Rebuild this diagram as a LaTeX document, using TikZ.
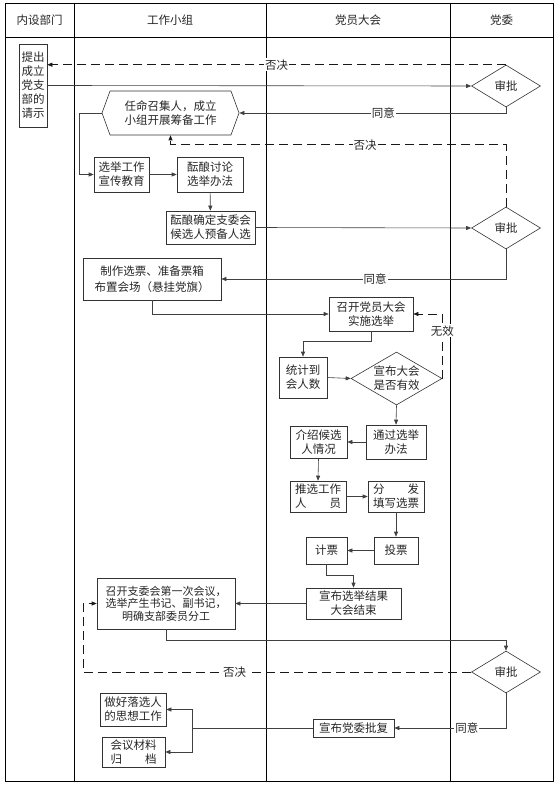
\documentclass[tikz,border=0pt]{standalone}
\usepackage{fontspec}
\setmainfont{Noto Sans CJK SC}
\usetikzlibrary{shapes.geometric, shapes.symbols, arrows.meta, positioning, calc}

\newcommand{\boxfont}{\fontsize{11.5}{14}\selectfont}
\newcommand{\smallbox}{\fontsize{11}{12.5}\selectfont}

\tikzset{
  lane/.style={draw=black, line width=0.8pt},
  box/.style={draw=black!80, line width=0.6pt, align=center, inner sep=1pt, text=black!85, font=\boxfont},
  hexa/.style={box, signal, signal to=east and west, signal pointer angle=140},
  approve/.style={box, diamond, aspect=1.6, inner sep=0pt, minimum width=69pt, minimum height=42pt},
  flow/.style={draw=black!75, line width=0.6pt, -{Triangle[length=5pt,width=4pt]}},
  back/.style={flow, draw=black!90, dash pattern=on 9pt off 5pt},
  lbl/.style={fill=white, inner sep=1pt, text=black!85, font=\boxfont}
}

\begin{document}
\begin{tikzpicture}[x=1pt, y=-1pt]
\useasboundingbox (0,0) rectangle (555,786);

% lanes
\draw[lane] (5,3) rectangle (553,781);
\draw[lane] (5,37) -- (553,37);
\foreach \lx in {74,266,450}
  \draw[lane] (\lx,3) -- (\lx,781);
\node[lbl] (h1) at (39.5,20) {内设部门};
\node[lbl] (h2) at (170,20) {工作小组};
\node[lbl] (h3) at (358,20) {党员大会};
\node[lbl] (h4) at (501.5,20) {党委};

% application and first approval
\node[box, minimum width=28pt, minimum height=83pt] (req) at (33,85.5) {提出\\成立\\党支\\部的\\请示};
\node[approve] (sp1) at (506,86) {审批};
\node[hexa, minimum width=137pt, minimum height=44pt] (hex) at (170.5,113) {任命召集人，成立\\小组开展筹备工作};

\draw[back] (sp1.north) -- node[lbl] {否决} (sp1.north -| req.east);
\draw[flow] (req.east) -- (sp1.west);
\draw[flow] (sp1.south) |- node[lbl, pos=0.73] {同意} (hex.east);

% preparation
\node[box, minimum width=55pt, minimum height=35pt] (pub) at (121.5,174.5) {选举工作\\宣传教育};
\node[box, minimum width=66pt, minimum height=35pt] (rule) at (210,174.5) {酝酿讨论\\选举办法};
\node[box, minimum width=89pt, minimum height=33pt] (cand) at (210.5,227.5) {酝酿确定支委会\\候选人预备人选};
\node[approve] (sp2) at (506,228) {审批};
\node[box, minimum width=138pt, minimum height=42pt, font=\fontsize{11.5}{16}\selectfont] (hall) at (152,279) {制作选票、准备票箱\\布置会场（悬挂党旗）};

\draw[flow] (hex.west) -- ++(-22,0) |- (pub.west);
\draw[flow] (pub) -- (rule);
\draw[flow] (rule) -- (cand);
\draw[flow] (cand.east) -- (sp2.west);
\draw[back] (sp2.north) -- ++(0,-62) -| node[lbl, pos=0.21] {否决} (hex.south);
\draw[flow] (sp2.south) |- node[lbl, pos=0.73] {同意} (hall.east);

% general meeting
\node[box, minimum width=84pt, minimum height=34pt] (meet) at (371,314) {召开党员大会\\实施选举};
\node[box, minimum width=48pt, minimum height=41pt] (count) at (303,377.5) {统计到\\会人数};
\node[box, diamond, aspect=1.7, inner sep=0pt, minimum width=91pt, minimum height=53pt] (valid) at (396.5,378.5) {宣布大会\\是否有效};
\node[box, minimum width=60pt, minimum height=34pt] (pass) at (396,442) {通过选举\\办法};
\node[box, minimum width=57pt, minimum height=32pt] (intro) at (318.5,442) {介绍候选\\人情况};
\node[box, minimum width=56pt, minimum height=31pt] (staff) at (318,496.5) {推选工作\\人　　员};
\node[box, minimum width=56pt, minimum height=31pt] (fill) at (396,496.5) {分　　发\\填写选票};
\node[box, minimum width=44pt, minimum height=27pt] (vote) at (396,550.5) {投票};
\node[box, minimum width=41pt, minimum height=27pt] (tally) at (326.5,550.5) {计票};
\node[box, minimum width=95pt, minimum height=31pt] (result) at (353.5,603.5) {宣布选举结果\\大会结束};

\draw[flow] (hall.south) |- (meet.west);
\draw[flow] (meet.south) -- ++(0,10) -| (count.north);
\draw[flow] (count.east) -- (valid.west);
\draw[back] (valid.east) |- node[lbl, pos=0.37] {无效} (meet.east);
\draw[flow] (valid.south) -- (pass.north);
\draw[flow] (pass.west) -- (intro.east);
\draw[flow] (intro.south) -- (staff.north);
\draw[flow] (staff.east) -- (fill.west);
\draw[flow] (fill.south) -- (vote.north);
\draw[flow] (vote.west) -- (tally.east);
\draw[flow] (tally.south) -- ++(0,11) -| (result.north);

% committee and final approval
\node[box, minimum width=138pt, minimum height=51pt, font=\smallbox] (first) at (166,603.5) {召开支委会第一次会议，\\选举产生书记、副书记，\\明确支部委员分工};
\node[approve] (sp3) at (506,672) {审批};
\node[box, minimum width=81pt, minimum height=18pt] (reply) at (353.5,728) {宣布党委批复};
\node[box, minimum width=66pt, minimum height=33pt] (comfort) at (133,709.5) {做好落选人\\的思想工作};
\node[box, minimum width=63pt, minimum height=30pt] (archive) at (133.5,752) {会议材料\\归　　档};

\draw[flow] (result.west) -- (first.east);
\draw[flow] (first.south) -- ++(0,11) -| (sp3.north);
\draw[back] (sp3.west) -- node[lbl, pos=0.61] {否决} ++(-388,0) |- (first.west);
\draw[flow] (sp3.south) |- node[lbl, pos=0.675] {同意} (reply.east);
\draw[draw=black!75, line width=0.6pt] (reply.west) -- ++(-120,0) coordinate (fork);
\draw[flow] (fork) |- (comfort.east);
\draw[flow] (fork) |- (archive.east);
\end{tikzpicture}
\end{document}
